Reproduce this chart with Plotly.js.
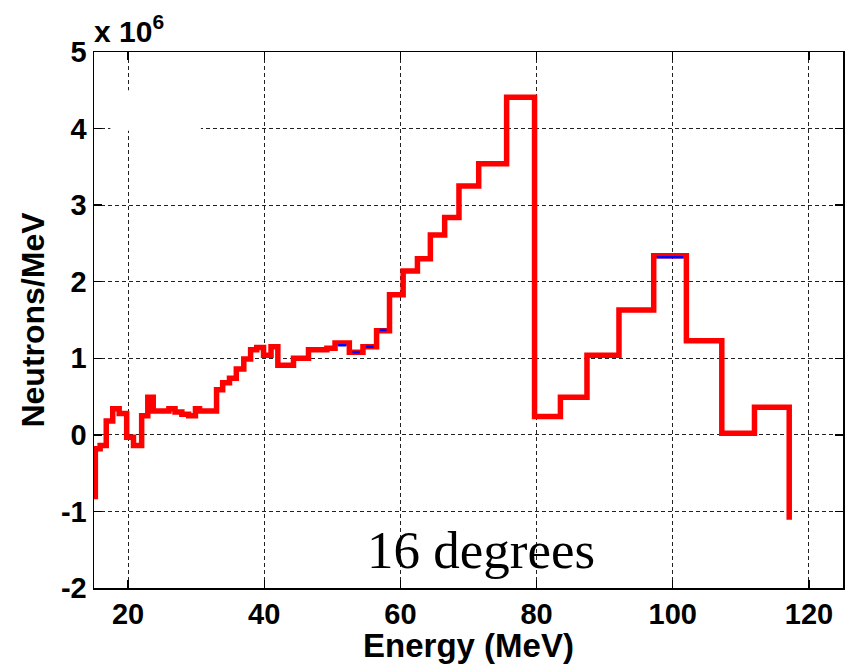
<!DOCTYPE html>
<html>
<head>
<meta charset="utf-8">
<script src="https://cdn.plot.ly/plotly-3.0.1.min.js"></script>
<style>
  html, body { margin: 0; padding: 0; background: #fff; }
  #chart { width: 851px; height: 664px; }
</style>
</head>
<body>
<div id="chart"></div>
<script>
// Neutron energy spectrum at 16 degrees, unfolded histogram (values in units of 10^6 neutrons/MeV)
const binLeftEdges = [
  15.2, 15.9, 16.8, 17.75, 18.7, 19.8, 20.8, 22.0, 22.9, 23.7,
  26.0, 26.9, 27.9, 28.9, 29.9, 30.5, 33.0, 33.9, 34.9, 35.9,
  37.0, 38.0, 38.9, 39.9, 41.0, 42.0, 44.3, 46.5, 49.2, 50.4,
  52.5, 54.5, 56.5, 58.4, 60.4, 62.5, 64.4, 66.5, 68.6, 71.5,
  75.6, 79.7, 83.5, 87.4, 92.1, 97.2, 102.0, 107.2, 112.0
];
const lastBinRightEdge = 117.1;

const neutronsPerMeV = [
  -0.18, -0.14, 0.18, 0.34, 0.28, -0.03, -0.14, 0.25, 0.49, 0.31,
  0.34, 0.30, 0.27, 0.25, 0.34, 0.31, 0.59, 0.68, 0.74, 0.86,
  0.99, 1.11, 1.14, 1.04, 1.15, 0.91, 1.00, 1.11, 1.13, 1.20,
  1.08, 1.15, 1.36, 1.83, 2.14, 2.30, 2.61, 2.84, 3.25, 3.54,
  4.41, 0.24, 0.49, 1.04, 1.63, 2.34, 1.23, 0.02, 0.36
];
// end points of the stair outline
const startValue = -0.84;
const endValue = -1.11;

// second (blue) unfolding, where it differs from the red one
const blueBinLeft  = [50.4, 52.5, 54.5, 56.5, 97.2];
const blueBinRight = [52.5, 54.5, 56.5, 58.4, 102.0];
const blueValues   = [1.17, 1.08, 1.15, 1.37, 2.32];

const xTicks = [20, 40, 60, 80, 100, 120];
const yTicks = [-2, -1, 0, 1, 2, 3, 4, 5];

// stair outline: start at the first edge, step through bins, drop at the end
const redX = [binLeftEdges[0], ...binLeftEdges, lastBinRightEdge];
const redY = [startValue, ...neutronsPerMeV, endValue];

const inset = 0.45;
const blueX = [], blueY = [];
blueBinLeft.forEach((l, i) => {
  blueX.push(l + inset, blueBinRight[i] - inset, null);
  blueY.push(blueValues[i], blueValues[i], null);
});

const sans = 'Liberation Sans, Arial, sans-serif';
const tickFont = { family: sans, size: 29, color: '#000', weight: 'bold' };

const axisCommon = {
  showline: true, linecolor: '#000', linewidth: 1.5, mirror: 'ticks',
  ticks: 'inside', ticklen: 8, tickwidth: 1.3, tickcolor: '#000',
  showgrid: true, gridcolor: '#222', gridwidth: 1, griddash: '4px,3px',
  zeroline: false, tickfont: tickFont
};

const data = [
  { x: redX, y: redY, type: 'scatter', mode: 'lines',
    line: { color: '#ff0000', width: 5.5, shape: 'hv' }, hoverinfo: 'skip' },
  { x: blueX, y: blueY, type: 'scatter', mode: 'lines',
    line: { color: '#0000ff', width: 2.5 }, connectgaps: false, hoverinfo: 'skip' }
];

const layout = {
  width: 851, height: 664,
  margin: { l: 94, r: 8, t: 52, b: 76 },
  paper_bgcolor: '#fff', plot_bgcolor: '#fff',
  showlegend: false,
  xaxis: Object.assign({}, axisCommon, {
    range: [15, 125], tickvals: xTicks, ticktext: xTicks.map(String),
    title: { text: 'Energy (MeV)', font: { family: sans, size: 33, color: '#000', weight: 'bold' }, standoff: 7 }
  }),
  yaxis: Object.assign({}, axisCommon, {
    range: [-2, 5], tickvals: yTicks, ticktext: yTicks.map(String),
    title: { text: 'Neutrons/MeV', font: { family: sans, size: 32, color: '#000', weight: 'bold' }, standoff: 6 }
  }),
  shapes: [
    // blank legend area
    { type: 'rect', xref: 'x', yref: 'y', x0: 17.4, x1: 30.7, y0: 3.97, y1: 4.5,
      fillcolor: '#fff', line: { width: 0 }, layer: 'above' }
  ],
  annotations: [
    { xref: 'paper', yref: 'paper', x: 0, y: 1, xanchor: 'left', yanchor: 'bottom',
      xshift: -2, yshift: 2, showarrow: false,
      text: 'x 10<sup>6</sup>', font: { family: sans, size: 30, color: '#000', weight: 'bold' } },
    { xref: 'x', yref: 'y', x: 71.8, y: -1.5, xanchor: 'center', yanchor: 'middle',
      showarrow: false, text: '16 degrees',
      font: { family: 'Liberation Serif, Times New Roman, serif', size: 53, color: '#000' } }
  ]
};

Plotly.newPlot('chart', data, layout, { displayModeBar: false, staticPlot: true });
</script>
</body>
</html>
